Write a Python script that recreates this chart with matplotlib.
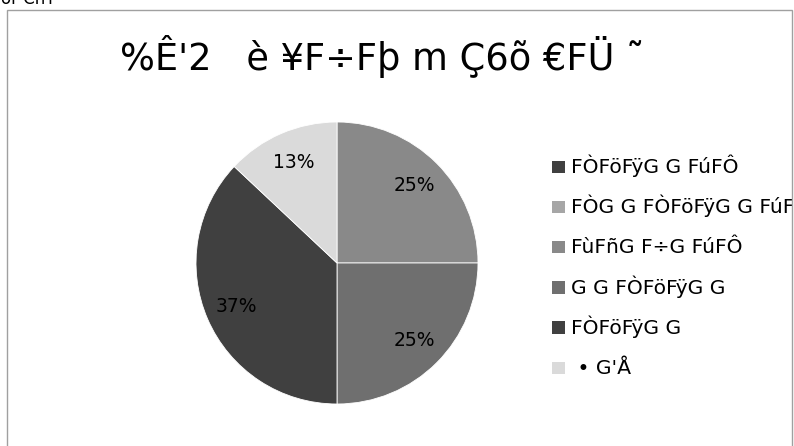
import numpy as np
import matplotlib
matplotlib.use('Agg')
import matplotlib.pyplot as plt
from matplotlib.patches import Rectangle

plt.rcParams['font.family'] = ['DejaVu Sans']

# data
title = "%\u00ca'2   \u00e8 \u00a5F\u00f7F\u00fe m \u00c76\u00f5 \u20acF\u00dc \u02dc"
categories = ["F\u00d2F\u00f6F\u00ffG G F\u00faF\u00d4",
              "F\u00d2G G F\u00d2F\u00f6F\u00ffG G F\u00faF\u00d4",
              "F\u00f9F\u00f1G F\u00f7G F\u00faF\u00d4",
              "G G F\u00d2F\u00f6F\u00ffG G",
              "F\u00d2F\u00f6F\u00ffG G",
              " \u2022 G'\u00c5"]
values = [0, 0, 25, 25, 37, 13]
colors = ['#404040', '#a6a6a6', '#898989', '#6f6f6f', '#404040', '#dadada']

W, H = 794, 446
fig = plt.figure(figsize=(W/100, H/100), dpi=100)

def fx(px):
    return px / W

def fy(py):
    return 1 - py / H

# pie, center (337, 263), radius 141 px
cx, cy, r = 337, 263, 141
ax = fig.add_axes([fx(cx - r), fy(cy + r), 2*r/W, 2*r/H])
shown = [i for i, v in enumerate(values) if v > 0]
wedges, texts, autotexts = ax.pie([values[i] for i in shown],
                                  colors=[colors[i] for i in shown],
                                  startangle=90, counterclock=False,
                                  autopct=lambda p: '%d%%' % round(p),
                                  pctdistance=0.78,
                                  wedgeprops=dict(edgecolor='white', linewidth=0.6))
for t in autotexts:
    t.set_fontsize(13.5)
    t.set_color('black')
ax.set_xlim(-1, 1)
ax.set_ylim(-1, 1)

# legend, drawn by hand so the rows are evenly spaced
row0, step = 173, 40.2   # baseline of first row, row pitch (px)
for i, (lab, c) in enumerate(zip(categories, colors)):
    base = row0 + i * step
    fig.patches.append(Rectangle((fx(552), fy(base)), 13/W, 12.5/H,
                                 transform=fig.transFigure,
                                 facecolor=c, edgecolor='none'))
    fig.text(fx(571), fy(base), lab, fontsize=14.6, ha='left', va='baseline')

# title
fig.text(fx(120), fy(70), title, fontsize=26.5, ha='left', va='baseline')

# cut off text at the very top
fig.text(fx(1), fy(4), "or ChT", fontsize=12, ha='left', va='baseline')

# chart frame, clip the legend at the right edge
fig.patches.append(Rectangle((fx(792.5), 0), 1, 1, transform=fig.transFigure,
                             facecolor='white', edgecolor='none', zorder=9))
fig.patches.append(Rectangle((fx(7), -0.1), fx(792) - fx(7), fy(10) + 0.1,
                             transform=fig.transFigure, facecolor='none',
                             edgecolor='#a0a0a0', linewidth=1, zorder=10))

fig.savefig('out.png', dpi=100)
